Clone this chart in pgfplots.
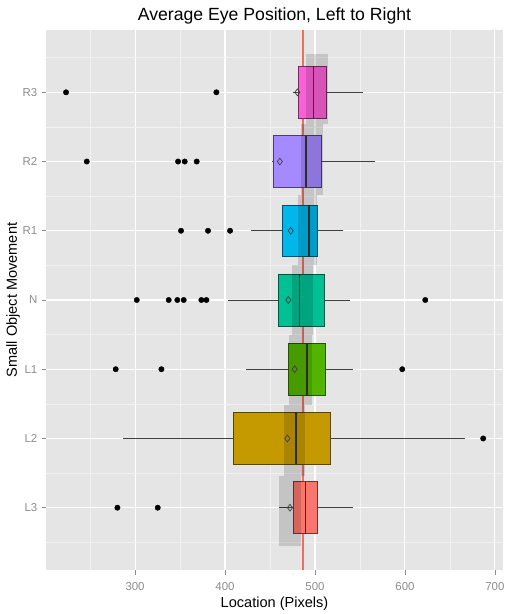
\documentclass[border=0pt]{standalone}
\usepackage{fontspec}
\setmainfont{Liberation Sans}
\usepackage{pgfplots}
\pgfplotsset{compat=1.18}
\usepgfplotslibrary{statistics}

\definecolor{ggbg}{HTML}{E5E5E5}
\definecolor{ggminor}{HTML}{F2F2F2}
\definecolor{tickgray}{HTML}{8C8C8C}
\definecolor{refred}{HTML}{EC6E62}
\definecolor{cLthree}{HTML}{F8766D}
\definecolor{cLtwo}{HTML}{C49A00}
\definecolor{cLone}{HTML}{53B400}
\definecolor{cN}{HTML}{00C094}
\definecolor{cRone}{HTML}{00B6EB}
\definecolor{cRtwo}{HTML}{A58AFF}
\definecolor{cRthree}{HTML}{FB61D7}

\begin{document}
\begin{tikzpicture}
\begin{axis}[
	at={(46bp,44bp)}, anchor=south west,
	scale only axis,
	width=457bp, height=540bp,
	xmin=201, xmax=709,
	ymin=0.1, ymax=7.9,
	xtick={300,400,500,600,700},
	minor xtick={250,350,450,550,650},
	ytick={1,2,3,4,5,6,7},
	yticklabels={L3,L2,L1,N,R1,R2,R3},
	minor ytick={0.5,1.5,2.5,3.5,4.5,5.5,6.5,7.5},
	grid=both,
	major grid style={white, line width=1.1bp},
	minor grid style={ggminor, line width=0.5bp},
	axis background/.style={fill=ggbg},
	axis line style={draw=none},
	tick pos=left,
	tick align=outside,
	major tick length=4.5bp,
	minor tick length=0pt,
	tick style={tickgray, line width=0.8bp},
	/pgf/number format/assume math mode=true,
	/pgf/number format/1000 sep={},
	ticklabel style={font=\fontsize{11.5}{13}\selectfont, text=tickgray},
	xticklabel style={anchor=base, yshift=-16bp},
	yticklabel style={anchor=east, inner sep=0pt, xshift=-4bp},
	title={Average Eye Position, Left to Right},
	title style={at={(axis description cs:0.5,1)}, anchor=base, yshift=3.3bp,
		font=\fontsize{17.7}{20}\selectfont},
	xlabel={Location (Pixels)},
	xlabel style={at={(axis description cs:0.5,0)}, anchor=base, yshift=-37bp,
		font=\fontsize{14.6}{17}\selectfont},
	ylabel={Small Object Movement},
	ylabel style={at={(axis description cs:-0.0722,0.5)}, anchor=center,
		font=\fontsize{14.6}{17}\selectfont},
	boxplot/box extend=0.75,
	boxplot/whisker extend=0,
	boxplot/every whisker/.style={draw=black!75, line width=0.7bp},
	boxplot/every median/.style={draw=black!80, line width=1.4bp},
	clip=true,
]

% overall reference line
\addplot[color=refred, line width=1.8bp] coordinates {(487,0.1) (487,7.9)};

% boxes, bottom (L3) to top (R3)
\addplot[boxplot prepared={lower whisker=460.4, lower quartile=475.9, median=489.6,
	upper quartile=503, upper whisker=541.9, draw position=1},
	fill=cLthree, draw=cLthree!45!black, line width=0.6bp] coordinates {};
\addplot[boxplot prepared={lower whisker=286.3, lower quartile=409.3, median=478.9,
	upper quartile=516.7, upper whisker=667, draw position=2},
	fill=cLtwo, draw=cLtwo!45!black, line width=0.6bp] coordinates {};
\addplot[boxplot prepared={lower whisker=423.7, lower quartile=470.4, median=491.1,
	upper quartile=511.5, upper whisker=541.9, draw position=3},
	fill=cLone, draw=cLone!45!black, line width=0.6bp] coordinates {};
\addplot[boxplot prepared={lower whisker=403, lower quartile=459.3, median=482.6,
	upper quartile=510.4, upper whisker=538.9, draw position=4},
	fill=cN, draw=cN!45!black, line width=0.6bp] coordinates {};
\addplot[boxplot prepared={lower whisker=428.9, lower quartile=464, median=493.3,
	upper quartile=503, upper whisker=531.5, draw position=5},
	fill=cRone, draw=cRone!45!black, line width=0.6bp] coordinates {};
\addplot[boxplot prepared={lower whisker=451.9, lower quartile=453.7, median=490,
	upper quartile=507.4, upper whisker=566.7, draw position=6},
	fill=cRtwo, draw=cRtwo!45!black, line width=0.6bp] coordinates {};
\addplot[boxplot prepared={lower whisker=475.2, lower quartile=481.5, median=498.1,
	upper quartile=512.2, upper whisker=553, draw position=7},
	fill=cRthree, draw=cRthree!45!black, line width=0.6bp] coordinates {};

% grey bands around the median
\addplot[fill=black, fill opacity=0.14, draw=none] coordinates {(460,0.45) (484,0.45) (484,1.464) (460,1.464)};
\addplot[fill=black, fill opacity=0.14, draw=none] coordinates {(465,1.464) (489,1.464) (489,2.479) (465,2.479)};
\addplot[fill=black, fill opacity=0.14, draw=none] coordinates {(471,2.479) (497,2.479) (497,3.493) (471,3.493)};
\addplot[fill=black, fill opacity=0.14, draw=none] coordinates {(474,3.493) (498,3.493) (498,4.507) (474,4.507)};
\addplot[fill=black, fill opacity=0.14, draw=none] coordinates {(481,4.507) (502,4.507) (502,5.521) (481,5.521)};
\addplot[fill=black, fill opacity=0.14, draw=none] coordinates {(485,5.521) (509,5.521) (509,6.536) (485,6.536)};
\addplot[fill=black, fill opacity=0.14, draw=none] coordinates {(490,6.536) (515,6.536) (515,7.55) (490,7.55)};

% outliers
\addplot[only marks, mark=*, mark size=2.7bp, black] coordinates {
	(280.4,1) (325.2,1)
	(687,2)
	(278.5,3) (329.3,3) (597,3)
	(301.9,4) (337.4,4) (347,4) (354.1,4) (373.7,4) (379.3,4) (622.6,4)
	(351.1,5) (381.1,5) (405.6,5)
	(246.3,6) (347.8,6) (355.2,6) (368.5,6)
	(223.3,7) (390.4,7)};

% means
\addplot[only marks, mark=diamond, mark size=3.4bp, mark options={draw=black!75, line width=0.7bp}] coordinates {
	(472.2,1) (469.3,2) (477.4,3) (470.4,4) (473,5) (461,6) (480.4,7)};

\end{axis}
\pgfresetboundingbox
\path (0,0) rectangle (516bp,614bp);
\end{tikzpicture}
\end{document}
